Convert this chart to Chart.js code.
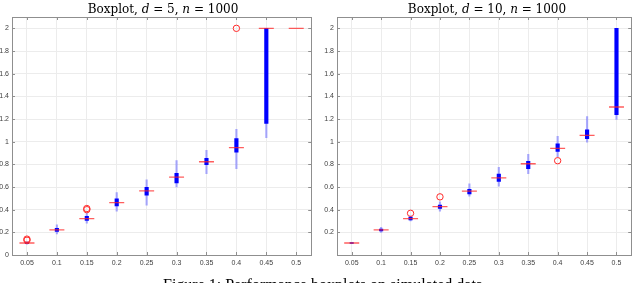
<!DOCTYPE html>
<html>
<head>
<meta charset="utf-8">
<script src="https://cdn.jsdelivr.net/npm/chart.js@4"></script>
<style>
  html, body { margin: 0; padding: 0; background: #fff; overflow: hidden; }
  #wrap { position: relative; width: 640px; height: 283px; overflow: hidden; }
  .panel { position: absolute; top: 0; width: 320px; height: 283px; }
  .title { position: absolute; top: 2px; font-family: "DejaVu Serif", serif; font-size: 12px; line-height: 14px; white-space: nowrap; transform: translateX(-50%); color: #000; }
  .title i { font-style: italic; }
  #caption { position: absolute; left: 163px; top: 277px; font-family: "Liberation Serif", serif; font-size: 16px; line-height: 16px; white-space: nowrap; }
</style>
</head>
<body>
<div id="wrap">
  <div class="panel" style="left:0"><canvas id="leftChart" width="320" height="283"></canvas></div>
  <div class="panel" style="left:320px"><canvas id="rightChart" width="320" height="283"></canvas></div>
  <div class="title" style="left:163px">Boxplot, <i>d</i> = 5, <i>n</i> = 1000</div>
  <div class="title" style="left:487px">Boxplot, <i>d</i> = 10, <i>n</i> = 1000</div>
  <div id="caption">Figure 1: Performance boxplots on simulated data</div>
</div>
<script>
const categories = ['0.05', '0.1', '0.15', '0.2', '0.25', '0.3', '0.35', '0.4', '0.45', '0.5'];
const yTicks = [0, 0.2, 0.4, 0.6, 0.8, 1, 1.2, 1.4, 1.6, 1.8, 2];

// d = 5
const d5WhiskerLo = [0.095, 0.186, 0.28, 0.386, 0.439, 0.601, 0.717, 0.761, 1.035, null];
const d5WhiskerHi = [0.118, 0.266, 0.37, 0.551, 0.663, 0.834, 0.923, 1.109, 2.0, null];
const d5BoxLo = [0.1, 0.207, 0.306, 0.433, 0.527, 0.637, 0.796, 0.908, 1.162, null];
const d5BoxHi = [0.112, 0.235, 0.342, 0.495, 0.596, 0.72, 0.852, 1.027, 2.0, null];
const d5Median = [0.106, 0.221, 0.321, 0.463, 0.566, 0.687, 0.823, 0.947, 2.0, 2.0];
const d5Outliers = [[0.13, 0.14], [], [0.4, 0.41], [], [], [], [], [2.0], [], []];

// d = 10
const d10WhiskerLo = [0.1, 0.2, 0.3, 0.386, 0.519, 0.607, 0.717, 0.867, 0.996, 1.197];
const d10WhiskerHi = [0.11, 0.245, 0.345, 0.469, 0.628, 0.773, 0.888, 1.046, 1.221, 2.0];
const d10BoxLo = [0.102, 0.212, 0.31, 0.41, 0.54, 0.649, 0.761, 0.914, 1.027, 1.239];
const d10BoxHi = [0.109, 0.228, 0.335, 0.44, 0.58, 0.713, 0.826, 0.982, 1.105, 2.0];
const d10Median = [0.106, 0.221, 0.321, 0.427, 0.563, 0.681, 0.805, 0.941, 1.056, 1.306];
const d10Outliers = [[], [], [0.368], [0.513], [], [], [], [0.832], [], []];

// frame + inward tick marks, MATLAB style
const frameLines = {
    id: 'frameLines',
    beforeDatasetsDraw(chart) {
        const { ctx, chartArea: a, scales } = chart;
        ctx.save();
        ctx.strokeStyle = '#8f8f8f';
        ctx.lineWidth = 1;
        ctx.beginPath();
        scales.x.ticks.forEach((t, i) => {
            const x = Math.round(scales.x.getPixelForTick(i)) + 0.5;
            ctx.moveTo(x, a.bottom); ctx.lineTo(x, a.bottom - 3);
            ctx.moveTo(x, a.top); ctx.lineTo(x, a.top + 3);
        });
        scales.y.ticks.forEach(t => {
            const y = Math.round(scales.y.getPixelForValue(t.value)) + 0.5;
            ctx.moveTo(a.left, y); ctx.lineTo(a.left + 3, y);
            ctx.moveTo(a.right, y); ctx.lineTo(a.right - 3, y);
        });
        ctx.stroke();
        ctx.strokeRect(Math.round(a.left) + 0.5, Math.round(a.top) + 0.5,
            Math.round(a.right - a.left), Math.round(a.bottom - a.top));
        ctx.restore();
    }
};

function makeBoxplot(canvasId, yAxisWidth, whLo, whHi, boxLo, boxHi, medians, outliers, showZero) {
    const outlierPoints = [];
    outliers.forEach((list, i) => list.forEach(v => outlierPoints.push({ x: categories[i], y: v })));

    new Chart(document.getElementById(canvasId), {
        type: 'bar',
        data: {
            labels: categories,
            datasets: [{
                label: 'whiskers',
                data: whLo.map((v, i) => v === null ? null : [v, whHi[i]]),
                backgroundColor: 'rgba(90, 90, 255, 0.5)',
                barThickness: 1.5,
                grouped: false,
                order: 4
            }, {
                label: 'box',
                data: boxLo.map((v, i) => v === null ? null : [v, boxHi[i]]),
                backgroundColor: '#0000ff',
                barThickness: 3.5,
                grouped: false,
                order: 3
            }, {
                type: 'line',
                label: 'median',
                data: medians,
                showLine: false,
                pointStyle: 'line',
                pointRadius: 7.5,
                pointBorderWidth: 1.3,
                pointBorderColor: 'rgba(255, 40, 40, 0.75)',
                order: 2
            }, {
                type: 'line',
                label: 'outliers',
                data: outlierPoints,
                showLine: false,
                pointStyle: 'circle',
                pointRadius: 3.2,
                pointBorderWidth: 1,
                pointBorderColor: '#ff2a2a',
                pointBackgroundColor: 'rgba(0,0,0,0)',
                order: 1
            }]
        },
        options: {
            responsive: false,
            animation: false,
            events: [],
            layout: { padding: { top: 17, right: 7, left: 0, bottom: 0 } },
            plugins: { legend: { display: false }, tooltip: { enabled: false } },
            scales: {
                x: {
                    type: 'category',
                    offset: true,
                    afterFit: s => { s.height = 28; },
                    border: { display: false },
                    grid: { color: '#ececec', drawTicks: false, offset: false },
                    ticks: { padding: 4, color: '#404040', font: { family: 'Liberation Sans', size: 7 }, maxRotation: 0 }
                },
                y: {
                    min: 0,
                    max: 2.1,
                    afterFit: s => { s.width = yAxisWidth; },
                    afterBuildTicks: s => { s.ticks = yTicks.map(v => ({ value: v })); },
                    border: { display: false },
                    grid: { color: '#ececec', drawTicks: false },
                    ticks: {
                        padding: 3,
                        color: '#404040',
                        font: { family: 'Liberation Sans', size: 7 },
                        callback: v => (v === 0 && !showZero) ? '' : String(Math.round(v * 10) / 10)
                    }
                }
            }
        },
        plugins: [frameLines]
    });
}

makeBoxplot('leftChart', 12, d5WhiskerLo, d5WhiskerHi, d5BoxLo, d5BoxHi, d5Median, d5Outliers, true);
makeBoxplot('rightChart', 17, d10WhiskerLo, d10WhiskerHi, d10BoxLo, d10BoxHi, d10Median, d10Outliers, false);
</script>
</body>
</html>
